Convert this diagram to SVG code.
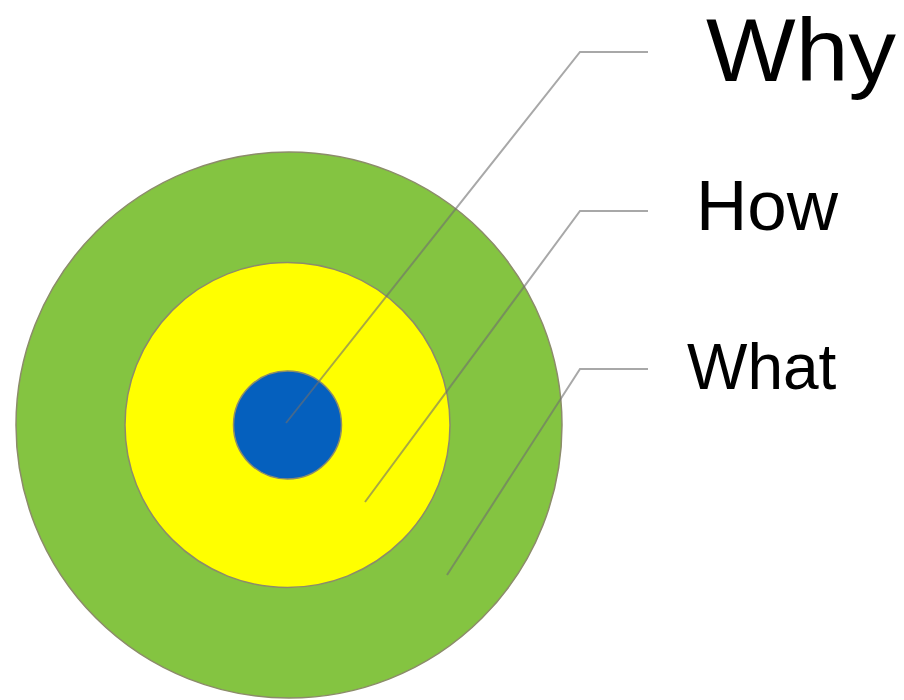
<svg xmlns="http://www.w3.org/2000/svg" width="904" height="700" viewBox="0 0 904 700">
<style>
.ring{stroke:#8c8c6a;stroke-width:1.5}
.lead{fill:none;stroke:#6e6e6e;stroke-opacity:0.6;stroke-width:2}
.lbl{font-family:"Liberation Sans",Arial,sans-serif;fill:#000}
</style>
<rect width="904" height="700" fill="#fff"/>
<g id="what-ring"><circle class="ring" cx="289" cy="425" r="273" fill="#84C441"/></g>
<g id="how-ring"><circle class="ring" cx="287.5" cy="425" r="162.5" fill="#FFFF00"/></g>
<g id="why-core"><circle class="ring" cx="287.5" cy="425" r="54" fill="#0560BE"/></g>
<g id="connectors">
<polyline class="lead" points="286,423 580,52 648,52"/>
<polyline class="lead" points="365,502 580,211 648,211"/>
<polyline class="lead" points="447,575 580,369 648,369"/>
</g>
<g id="label-why"><text class="lbl" x="706" y="81" font-size="89" textLength="190" lengthAdjust="spacingAndGlyphs">Why</text></g>
<g id="label-how"><text class="lbl" x="696" y="230" font-size="71">How</text></g>
<g id="label-what"><text class="lbl" x="687" y="389" font-size="64">What</text></g>
</svg>
